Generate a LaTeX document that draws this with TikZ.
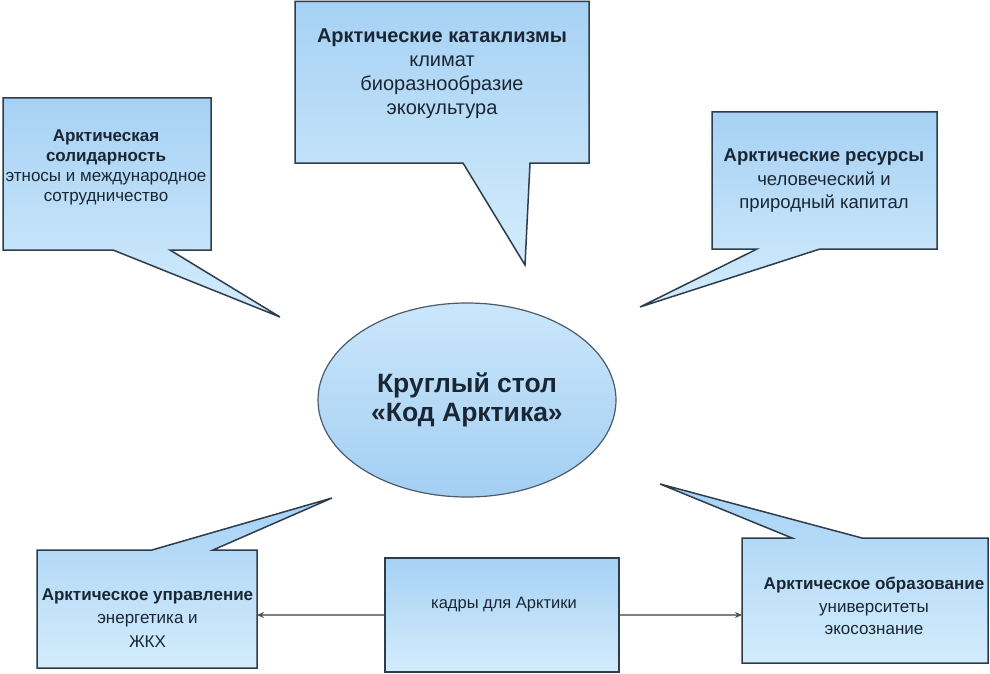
\documentclass[tikz,border=0pt]{standalone}
\usepackage{fontspec}
\setmainfont{Liberation Sans}
\usetikzlibrary{arrows.meta,shapes.geometric}
\definecolor{edge}{HTML}{2E3D4C}
\definecolor{boxtop}{HTML}{A6D1F4}
\definecolor{boxbot}{HTML}{D3ECFC}
\definecolor{elltop}{HTML}{CAE6FB}
\definecolor{ellbot}{HTML}{A3CFF2}
\definecolor{ink}{HTML}{1A2633}
\definecolor{arrowgray}{HTML}{808080}
\definecolor{tipgray}{HTML}{505050}
\newcommand{\myfs}[2]{\fontsize{#1}{#2}\selectfont}
\begin{document}
\begin{tikzpicture}[x=1pt,y=-1pt,
  area/.style={inner sep=0pt, outer sep=0pt},
  callout/.style={draw=edge, line width=1.5pt, line join=miter, top color=boxtop, bottom color=boxbot},
  txt/.style={align=center, text=ink, inner sep=0pt},
  link/.style={draw=arrowgray, line width=1.6pt, -{Stealth[length=7pt,width=6pt,color=tipgray]}}
]
\useasboundingbox (0,0) rectangle (990,674);
\fill[white] (0,0) rectangle (990,674);

% box areas (anchors)
\node[area, minimum width=208pt, minimum height=152pt] (A) at (107,174) {};
\node[area, minimum width=294pt, minimum height=161.5pt] (B) at (442,82.25) {};
\node[area, minimum width=225pt, minimum height=137pt] (C) at (824.5,180.5) {};
\node[area, minimum width=220pt, minimum height=118pt] (D) at (147,609) {};
\node[area, minimum width=246pt, minimum height=125pt] (E) at (865,600.5) {};

% callouts
\path[callout] (A.north west) -- (A.north east) -- (A.south east) -- (170,250) -- (280,317) -- (113,250) -- (A.south west) -- cycle;
\path[callout] (B.north west) -- (B.north east) -- (B.south east) -- (530,163) -- (525,265) -- (463,163) -- (B.south west) -- cycle;
\path[callout] (C.north west) -- (C.north east) -- (C.south east) -- (820,249) -- (640,307) -- (757,249) -- (C.south west) -- cycle;
\path[callout] (D.north west) -- (152,550) -- (332,498) -- (213,550) -- (D.north east) -- (D.south east) -- (D.south west) -- cycle;
\path[callout] (E.north west) -- (792,538) -- (660,484) -- (862,538) -- (E.north east) -- (E.south east) -- (E.south west) -- cycle;

% middle bottom box
\node[draw=edge, line width=1.5pt, top color=boxtop, bottom color=boxbot, minimum width=234pt, minimum height=114pt, inner sep=0pt] (F) at (502,615) {};

% central ellipse
\node[ellipse, draw=edge!85, line width=1.2pt, top color=elltop, bottom color=ellbot, minimum width=298pt, minimum height=194pt, txt, font=\myfs{26.5}{29}\bfseries] (O) at (467,400) {Круглый стол\\«Код Арктика»};

% texts
\node[txt, font=\myfs{17}{20}] (tA) at (106,167) {\textbf{Арктическая}\\\textbf{солидарность}\\этносы и международное\\сотрудничество};
\node[txt, font=\myfs{20}{24}] (tB) at (442,74) {\textbf{Арктические катаклизмы}\\климат\\биоразнообразие\\экокультура};
\node[txt, font=\myfs{18.5}{23.5}] (tC) at (824,181) {\textbf{Арктические ресурсы}\\человеческий и\\природный капитал};
\node[txt, font=\myfs{17}{23.5}] (tD) at (147.5,618) {\textbf{Арктическое управление}\\энергетика и\\ЖКХ};
\node[txt, font=\myfs{17}{22.5}] (tE) at (874,606) {\textbf{Арктическое образование}\\университеты\\экосознание};
\node[txt, font=\myfs{16.5}{20}] (tF) at (504,605) {кадры для Арктики};

% connectors
\draw[link] (F.west) -- (F.west -| D.east);
\draw[link] (F.east) -- (F.east -| E.west);
\end{tikzpicture}
\end{document}
